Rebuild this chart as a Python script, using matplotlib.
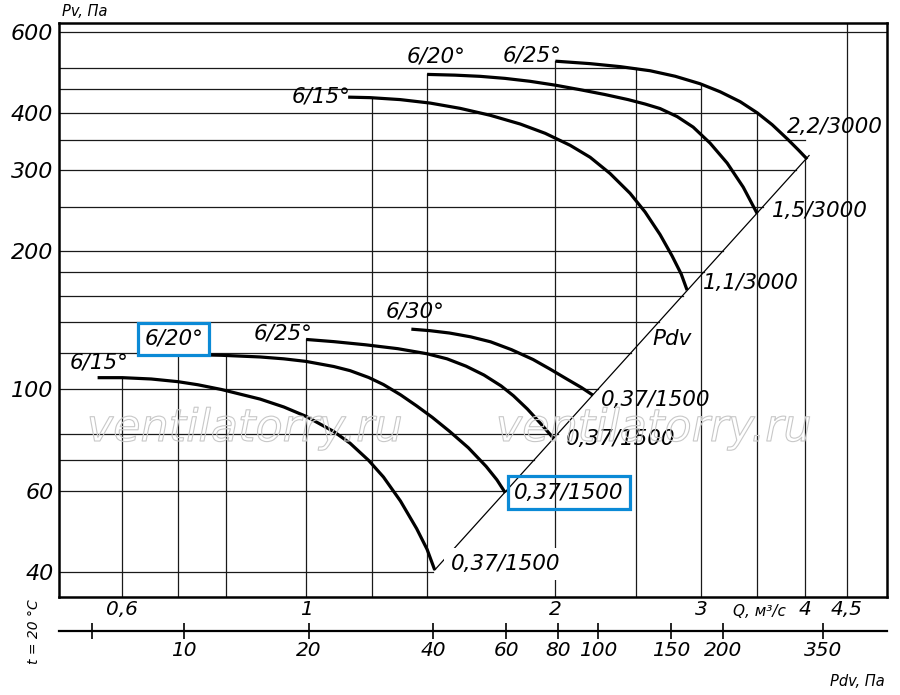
import numpy as np
import matplotlib
matplotlib.use('Agg')
import matplotlib.pyplot as plt
from matplotlib import patheffects

plt.rcParams['font.family'] = ['DejaVu Sans']
plt.rcParams['font.style'] = 'italic'

# --- характеристики вентилятора (Q, м3/с ; Pv, Па) ---
# 3000 об/мин
q_15_3000 = [1.124, 1.195, 1.299, 1.412, 1.535, 1.668, 1.814, 1.944, 2.084, 2.203, 2.328, 2.462, 2.567, 2.676, 2.767, 2.838, 2.885]
p_15_3000 = [432.9, 431.8, 427.6, 420.2, 409.2, 395.3, 378.3, 361.1, 340.0, 320.2, 295.3, 267.2, 243.3, 217.3, 195.2, 178.3, 164.4]
q_20_3000 = [1.4, 1.513, 1.623, 1.739, 1.864, 1.998, 2.142, 2.297, 2.448, 2.567, 2.676, 2.806, 2.934, 3.075, 3.225, 3.372, 3.505]
p_20_3000 = [485.2, 483.4, 480.5, 475.6, 468.7, 459.8, 449.4, 438.5, 427.6, 418.2, 408.8, 392.7, 372.5, 343.8, 311.0, 275.7, 241.6]
q_25_3000 = [2.0, 2.203, 2.394, 2.603, 2.791, 2.991, 3.162, 3.344, 3.505, 3.655, 3.81, 3.929, 4.029]
p_25_3000 = [518.5, 512.1, 504.5, 494.2, 480.7, 463.0, 444.8, 423.1, 400.3, 377.0, 351.4, 332.5, 317.1]
# 1500 об/мин
q_15_1500 = [0.56, 0.6, 0.65, 0.7, 0.74, 0.79, 0.88, 0.94, 1.0, 1.08, 1.13, 1.19, 1.24, 1.3, 1.36, 1.4, 1.43]
p_15_1500 = [106, 106, 105.3, 103.9, 102.3, 99.9, 95.2, 91.5, 87.3, 80.9, 76.3, 70.0, 64.4, 57.1, 49.7, 44.8, 40.4]
q_20_1500 = [0.7, 0.74, 0.79, 0.88, 0.94, 1.0, 1.08, 1.13, 1.19, 1.24, 1.3, 1.36, 1.42, 1.49, 1.57, 1.65, 1.7, 1.74]
p_20_1500 = [119.0, 118.9, 118.6, 117.6, 116.5, 115.0, 112.1, 109.8, 106.1, 102.4, 97.3, 92.0, 86.9, 81.0, 74.6, 67.9, 63.5, 59.5]
q_25_1500 = [1.0, 1.08, 1.18, 1.29, 1.4, 1.48, 1.56, 1.64, 1.72, 1.78, 1.85, 1.92, 1.99]
p_25_1500 = [128.4, 127.0, 125.0, 122.6, 119.5, 116.5, 112.3, 107.4, 101.7, 96.8, 90.6, 84.2, 78.2]
q_30_1500 = [1.34, 1.41, 1.49, 1.58, 1.67, 1.77, 1.88, 1.97, 2.07, 2.15, 2.22]
p_30_1500 = [135.2, 134.2, 132.6, 130.1, 126.9, 122.0, 116.1, 110.7, 105.0, 100.9, 97.1]

# линия динамического давления Pdv
k_pdv = 19.7
pdv_q = [1.43, 4.05]
pdv_p = [40.4, 323]

# сетка и подписи осей
grid_p = [40, 60, 70, 80, 100, 120, 140, 160, 180, 200, 250, 300, 350, 400, 450, 500, 600]
corner_p = [350, 400, 450, 500]
corner_q = [4, 3.5, 3, 2.5]
grid_q = [0.6, 0.7, 0.8, 1, 1.2, 1.4, 2, 2.5, 3, 3.5, 4, 4.5]
y_ticks = [40, 60, 100, 200, 300, 400, 600]
q_ticks = [0.6, 1, 2, 3, 4, 4.5]
q_labels = ['0,6', '1', '2', '3', '4', '4,5']
pdv_ticks = [6, 10, 20, 40, 60, 80, 100, 150, 200, 350]
pdv_labels = ['', '10', '20', '40', '60', '80', '100', '150', '200', '350']

q_lo, q_hi = 0.503, 5.03
p_lo, p_hi = 35.28, 627.9

curves = [(q_15_3000, p_15_3000), (q_20_3000, p_20_3000), (q_25_3000, p_25_3000),
          (q_15_1500, p_15_1500), (q_20_1500, p_20_1500), (q_25_1500, p_25_1500),
          (q_30_1500, p_30_1500)]

fig = plt.figure(figsize=(9, 6.95), dpi=100)
ax = fig.add_axes([59 / 900, 98 / 695, 828 / 900, 574 / 695])
ax.set_xscale('log')
ax.set_yscale('log')
ax.set_xlim(q_lo, q_hi)
ax.set_ylim(p_lo, p_hi)

grid_kw = dict(color='#1a1a1a', lw=0.9, zorder=1)

# горизонтальные линии сетки
for p in grid_p:
    if p in corner_p:
        q_end = corner_q[corner_p.index(p)]
    elif p >= 600:
        q_end = q_hi
    else:
        q_end = np.sqrt(p / k_pdv)
    ax.plot([q_lo, q_end], [p, p], **grid_kw)

# вертикальные линии сетки до ближайшей кривой сверху
for q in grid_q:
    tops = [np.interp(q, cq, cp) for cq, cp in curves if cq[0] - 1e-9 <= q <= cq[-1]]
    top = max(tops) if tops else p_hi
    ax.plot([q, q], [p_lo, top], **grid_kw)

ax.plot(pdv_q, pdv_p, color='black', lw=0.9, zorder=2)

for cq, cp in curves:
    ax.plot(cq, cp, color='black', lw=2.3, zorder=3, solid_capstyle='butt', solid_joinstyle='round')

lab = dict(fontsize=15.5, textcoords='offset pixels', va='center', zorder=5)
blue = '#0b8ad6'

ax.annotate('6/15°', (q_15_3000[0], p_15_3000[0]), (2, 1), ha='right', **lab)
ax.annotate('6/20°', (q_20_3000[0], p_20_3000[0]), (9, 18), ha='center', **lab)
ax.annotate('6/25°', (q_25_3000[0], p_25_3000[0]), (6, 6), ha='right', **lab)
ax.annotate('1,1/3000', (q_15_3000[-1], p_15_3000[-1]), (16, 7), ha='left', **lab)
ax.annotate('1,5/3000', (q_20_3000[-1], p_20_3000[-1]), (15, 2), ha='left', **lab)
ax.annotate('2,2/3000', (q_25_3000[-1], p_25_3000[-1]), (-20, 32), ha='left', **lab)

ax.annotate('6/15°', (q_15_1500[0], p_15_1500[0]), (1, 15), ha='center', **lab)
ax.annotate('6/20°', (q_20_1500[0], p_20_1500[0]), (-4, 16), ha='center',
            bbox=dict(boxstyle='square,pad=0.28', fc='white', ec=blue, lw=2.3), **lab)
ax.annotate('6/25°', (q_25_1500[0], p_25_1500[0]), (6, 6), ha='right', **lab)
ax.annotate('6/30°', (q_30_1500[0], p_30_1500[0]), (4, 18), ha='center', **lab)
ax.annotate('0,37/1500', (q_15_1500[-1], p_15_1500[-1]), (16, 6), ha='left',
            bbox=dict(boxstyle='square,pad=0.3', fc='white', ec='none'), **lab)
ax.annotate('0,37/1500', (q_20_1500[-1], p_20_1500[-1]), (9, 0), ha='left',
            bbox=dict(boxstyle='square,pad=0.3', fc='none', ec=blue, lw=2.3), **lab)
ax.annotate('0,37/1500', (q_25_1500[-1], p_25_1500[-1]), (12, -1), ha='left', **lab)
ax.annotate('0,37/1500', (q_30_1500[-1], p_30_1500[-1]), (8, -5), ha='left', **lab)
ax.text(2.62, 129, 'Pdv', fontsize=15.5, ha='left', va='center', zorder=5)

# оси
for s in ax.spines.values():
    s.set_linewidth(1.8)
ax.set_yticks(y_ticks)
ax.set_yticklabels([str(v) for v in y_ticks])
ax.set_xticks(q_ticks)
ax.set_xticklabels(q_labels)
ax.minorticks_off()
ax.tick_params(axis='y', length=0, labelsize=16, pad=4)
ax.tick_params(axis='x', length=0, labelsize=14.5, pad=2.5)

sec = ax.secondary_xaxis(-34 / 574, functions=(lambda q: k_pdv * np.asarray(q) ** 2,
                                               lambda p: np.sqrt(np.maximum(p, 1e-9) / k_pdv)))
sec.set_xticks(pdv_ticks)
sec.set_xticklabels(pdv_labels)
sec.minorticks_off()
sec.tick_params(direction='inout', length=11, width=1.2, labelsize=14.5, pad=2)
sec.spines['bottom'].set_linewidth(1.6)

fig.text(62 / 900, 1 - 12 / 695, 'Pv, Па', fontsize=10.5, ha='left', va='center')
fig.text(885 / 900, 1 - 682 / 695, 'Pdv, Па', fontsize=10.5, ha='right', va='center')
fig.text(733 / 900, 1 - 611 / 695, 'Q, м³/с', fontsize=11, ha='left', va='center')
fig.text(34 / 900, 1 - 632 / 695, 't = 20 °C', fontsize=10, rotation=90, ha='center', va='center')

for xc in (245, 654):
    fig.text(xc / 900, 1 - 441 / 695, 'ventilatorry.ru', fontsize=32, ha='center',
             va='baseline', color=(1, 1, 1, 0), zorder=6,
             path_effects=[patheffects.Stroke(linewidth=0.8, foreground='#c8c8c8')])

fig.savefig('out.png', dpi=100)
